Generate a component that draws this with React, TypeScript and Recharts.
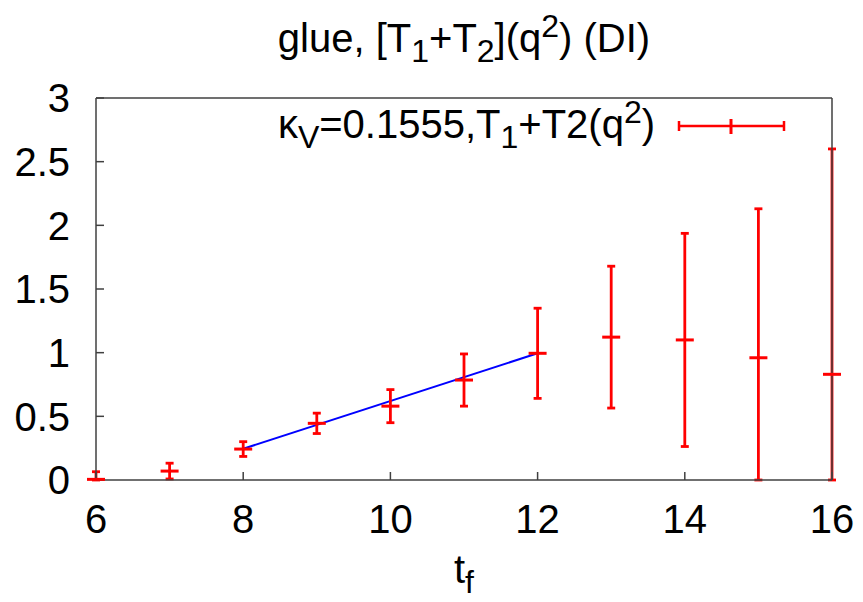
import { ComposedChart, Scatter, Line, XAxis, YAxis, ErrorBar, Legend } from 'recharts';

const W = 863;
const H = 602;

// data
const tf = [6, 7, 8, 9, 10, 11, 12, 13, 14, 15, 16];
const vals = [0.005, 0.07, 0.243, 0.445, 0.58, 0.785, 0.995, 1.122, 1.1, 0.96, 0.83];
const errs = [0.06, 0.062, 0.058, 0.08, 0.13, 0.205, 0.354, 0.557, 0.837, 1.17, 1.77];

// linear fit segment (t=8..12)
const fitT = [8, 12];
const fitV = [0.245, 0.995];

const xTicks = [6, 8, 10, 12, 14, 16];
const yTicks = [0, 0.5, 1, 1.5, 2, 2.5, 3];
const yMin = 0;
const yMax = 3;

const legendLabel = 'κV=0.1555,T1+T2(q2)';

const points = tf.map((t, i) => ({
  t,
  v: vals[i],
  // gnuplot clips the bars at the bottom border
  e: [Math.min(errs[i], vals[i] - yMin), errs[i]],
}));
const fit = fitT.map((t, i) => ({ t, fit: fitV[i] }));

const RED = '#ff0000';
const FRAME = '#404040';
const FS = 40;
const SUB = FS * 0.8;

const CenterTick = (p: any) => (
  <line x1={p.cx - 9} x2={p.cx + 9} y1={p.cy} y2={p.cy} stroke={RED} strokeWidth={3} />
);

const LegendBox = () => (
  <svg width={W} height={60} style={{ display: 'block', overflow: 'visible' }}>
    <text x={655} y={38} textAnchor="end" fontSize={FS} fill="#000">
      <tspan>κ</tspan>
      <tspan dy={10} fontSize={SUB}>V</tspan>
      <tspan dy={-10}>=0.1555,T</tspan>
      <tspan dy={10} fontSize={SUB}>1</tspan>
      <tspan dy={-10}>+T2(q</tspan>
      <tspan dy={-15} fontSize={SUB}>2</tspan>
      <tspan dy={15}>)</tspan>
    </text>
    <line x1={679} x2={784} y1={26} y2={26} stroke={RED} strokeWidth={2.5} />
    <line x1={679} x2={679} y1={21} y2={31} stroke={RED} strokeWidth={2.5} />
    <line x1={784} x2={784} y1={21} y2={31} stroke={RED} strokeWidth={2.5} />
    <line x1={731} x2={731} y1={19} y2={34} stroke={RED} strokeWidth={3} />
  </svg>
);

export default function App() {
  return (
    <div
      style={{
        position: 'absolute',
        left: 0,
        top: 0,
        width: W,
        height: H,
        background: '#fff',
        fontFamily: '"Liberation Sans", Arial, sans-serif',
      }}
    >
      <ComposedChart width={W} height={H} margin={{ top: 97, right: 30, bottom: 0, left: 0 }}>
        <XAxis
          dataKey="t"
          type="number"
          domain={[6, 16]}
          ticks={xTicks}
          height={122}
          tickSize={-8}
          tickMargin={33}
          axisLine={{ stroke: FRAME, strokeWidth: 1.5 }}
          tickLine={{ stroke: FRAME, strokeWidth: 1.5 }}
          tick={{ fontSize: FS, fill: '#000' }}
        />
        <XAxis
          xAxisId="top"
          orientation="top"
          dataKey="t"
          type="number"
          domain={[6, 16]}
          ticks={xTicks}
          height={1}
          tickSize={-8}
          tickFormatter={() => ''}
          axisLine={{ stroke: FRAME, strokeWidth: 1.5 }}
          tickLine={{ stroke: FRAME, strokeWidth: 1.5 }}
        />
        <YAxis
          type="number"
          domain={[yMin, yMax]}
          ticks={yTicks}
          width={96}
          tickSize={-8}
          tickMargin={34}
          axisLine={{ stroke: FRAME, strokeWidth: 1.5 }}
          tickLine={{ stroke: FRAME, strokeWidth: 1.5 }}
          tick={{ fontSize: FS, fill: '#000' }}
        />
        <YAxis
          yAxisId="right"
          orientation="right"
          type="number"
          domain={[yMin, yMax]}
          ticks={yTicks}
          width={1}
          tickSize={-8}
          tickFormatter={() => ''}
          axisLine={{ stroke: FRAME, strokeWidth: 1.5 }}
          tickLine={{ stroke: FRAME, strokeWidth: 1.5 }}
        />
        <Line
          data={fit}
          dataKey="fit"
          stroke="#0000ff"
          strokeWidth={2}
          dot={false}
          activeDot={false}
          legendType="none"
          isAnimationActive={false}
        />
        <Scatter
          name={legendLabel}
          data={points}
          dataKey="v"
          shape={CenterTick}
          isAnimationActive={false}
        >
          <ErrorBar dataKey="e" direction="y" width={4} stroke={RED} strokeWidth={2.8} />
        </Scatter>
        <Legend
          layout="vertical"
          align="center"
          verticalAlign="middle"
          content={LegendBox}
          wrapperStyle={{ position: 'absolute', left: 0, top: 100, width: W, height: 60 }}
        />
      </ComposedChart>
      <svg
        width={W}
        height={H}
        style={{ position: 'absolute', left: 0, top: 0, pointerEvents: 'none' }}
      >
        <text x={464} y={52} textAnchor="middle" fontSize={FS} fill="#000">
          <tspan>glue, [T</tspan>
          <tspan dy={10} fontSize={SUB}>1</tspan>
          <tspan dy={-10}>+T</tspan>
          <tspan dy={10} fontSize={SUB}>2</tspan>
          <tspan dy={-10}>](q</tspan>
          <tspan dy={-15} fontSize={SUB}>2</tspan>
          <tspan dy={15}>) (DI)</tspan>
        </text>
        <text x={464} y={583} textAnchor="middle" fontSize={FS} fill="#000">
          <tspan>t</tspan>
          <tspan dy={10} fontSize={SUB}>f</tspan>
        </text>
      </svg>
    </div>
  );
}
